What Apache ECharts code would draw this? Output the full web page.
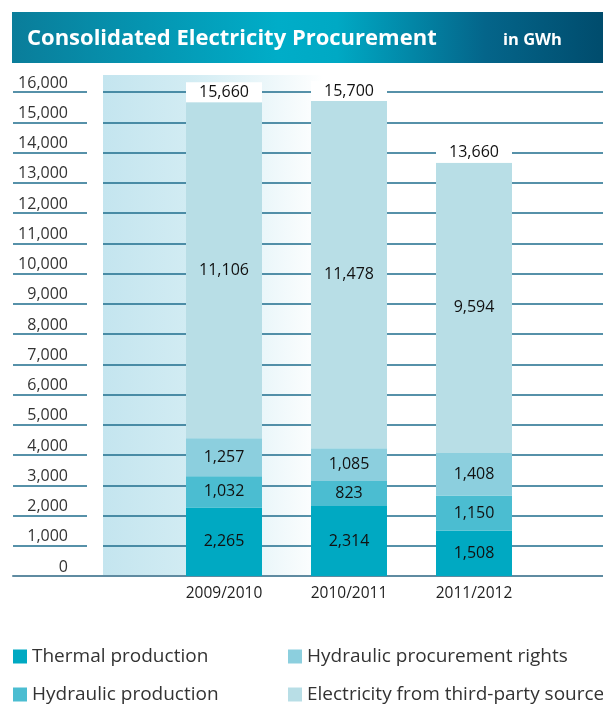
<!DOCTYPE html>
<html lang="en">
<head>
    <meta charset="UTF-8">
    <title>Consolidated Electricity Procurement</title>
    <script src="https://cdn.jsdelivr.net/npm/echarts@6/dist/echarts.min.js"></script>
    <style>
        body{margin:0;background:#fff}
        #chart{width:603px;height:706px}
    </style>
</head>
<body>
    <div id="chart"></div>
    <script>
        var years=['2009/2010','2010/2011','2011/2012'];
        var thermal=[2265,2314,1508];
        var hydraulic=[1032,823,1150];
        var procurementRights=[1257,1085,1408];
        var thirdParty=[11106,11478,9594];
        var totals=[15660,15700,13660];
        var yTicks=[0,16000,1000];   // min, max, step

        var font='"Open Sans", "Noto Sans", sans-serif';
        function fmt(v){return Number(v).toLocaleString('en-US');}

        var mychart=echarts.init(document.getElementById('chart'));

        function segment(name,data,color){
            return {
                name:name,
                type:'bar',
                stack:'total',
                xAxisIndex:1,
                yAxisIndex:1,
                barWidth:76,
                itemStyle:{color:color},
                label:{
                    show:true,
                    position:'inside',
                    color:'#111',
                    fontSize:16,
                    fontFamily:font,
                    formatter:function(p){return fmt(p.value);}
                },
                data:data
            };
        }

        // one legend per entry so the 2x2 layout is exact
        function legendItem(name,left,top){
            return {
                left:left,
                top:top,
                padding:0,
                itemWidth:14,
                itemHeight:14,
                icon:'rect',
                textStyle:{fontSize:19,color:'#333',fontFamily:font},
                data:[name]
            };
        }

        var option={
            animation:false,
            textStyle:{fontFamily:font},
            graphic:[
                {
                    type:'rect',
                    z:-10,
                    shape:{x:12,y:12,width:591,height:51},
                    style:{fill:new echarts.graphic.LinearGradient(0,0,1,0,[
                        {offset:0,color:'#0a7d9a'},
                        {offset:0.45,color:'#00adc8'},
                        {offset:0.55,color:'#00a9c4'},
                        {offset:0.8,color:'#04658a'},
                        {offset:1,color:'#004c6d'}
                    ])}
                },
                {
                    type:'rect',
                    z:-10,
                    shape:{x:103,y:75,width:220,height:501},
                    style:{fill:new echarts.graphic.LinearGradient(0,0,1,0,[
                        {offset:0,color:'#c4e5ef'},
                        {offset:0.4,color:'#d2ecf3'},
                        {offset:1,color:'#ffffff'}
                    ])}
                }
            ],
            title:[
                {
                    text:'Consolidated Electricity Procurement',
                    left:22,
                    top:23,
                    textStyle:{color:'#fff',fontSize:22,fontWeight:'bold',fontFamily:font}
                },
                {
                    text:'in GWh',
                    left:498,
                    top:27,
                    textStyle:{color:'#fff',fontSize:16.5,fontWeight:'bold',fontFamily:font}
                }
            ],
            legend:[
                legendItem('Thermal production',13,647),
                legendItem('Hydraulic production',13,685),
                legendItem('Hydraulic procurement rights',288,647),
                legendItem('Electricity from third-party source',288,685)
            ],
            grid:[
                {left:103,right:0,top:92,bottom:130},
                {left:161.5,width:375,top:92,bottom:130},
                {left:13,width:74,top:92,bottom:130},
                {left:13,right:0,top:92,bottom:130}
            ],
            xAxis:[
                {gridIndex:0,type:'value',show:false},
                {
                    gridIndex:1,
                    type:'category',
                    data:years,
                    axisLine:{show:false},
                    axisTick:{show:false},
                    axisLabel:{margin:10,fontSize:15.5,color:'#222',fontFamily:font}
                },
                {gridIndex:2,type:'value',show:false},
                {
                    gridIndex:3,
                    type:'value',
                    axisLine:{show:true,lineStyle:{color:'#5f8ba1',width:2}},
                    axisTick:{show:false},
                    axisLabel:{show:false},
                    splitLine:{show:false}
                }
            ],
            yAxis:[
                {
                    gridIndex:0,
                    type:'value',
                    min:yTicks[0],
                    max:yTicks[1],
                    interval:yTicks[2],
                    axisLine:{show:false},
                    axisTick:{show:false},
                    splitLine:{lineStyle:{color:'#1e6c8c',width:1.5}},
                    axisLabel:{
                        margin:35,
                        fontSize:16,
                        color:'#333',
                        fontFamily:font,
                        verticalAlign:'bottom',
                        padding:[0,0,1,0],
                        formatter:fmt
                    }
                },
                {
                    gridIndex:1,
                    type:'value',
                    min:yTicks[0],
                    max:yTicks[1],
                    interval:yTicks[2],
                    show:false
                },
                {
                    gridIndex:2,
                    type:'value',
                    min:yTicks[0],
                    max:yTicks[1],
                    interval:yTicks[2],
                    axisLine:{show:false},
                    axisTick:{show:false},
                    axisLabel:{show:false},
                    splitLine:{lineStyle:{color:'#1e6c8c',width:1.5}}
                },
                {
                    gridIndex:3,
                    type:'value',
                    min:yTicks[0],
                    max:yTicks[1],
                    show:false
                }
            ],
            series:[
                segment('Thermal production',thermal,'#00a9c2'),
                segment('Hydraulic production',hydraulic,'#4bbdd1'),
                segment('Hydraulic procurement rights',procurementRights,'#8ccfde'),
                segment('Electricity from third-party source',thirdParty,'#b8dee6'),
                {
                    name:'total',
                    type:'scatter',
                    xAxisIndex:1,
                    yAxisIndex:1,
                    symbolSize:0,
                    z:5,
                    itemStyle:{opacity:1},
                    label:{
                        show:true,
                        position:'top',
                        distance:0,
                        width:76,
                        height:20,
                        lineHeight:20,
                        align:'center',
                        backgroundColor:'#fff',
                        color:'#111',
                        fontSize:16,
                        fontFamily:font,
                        formatter:function(p){return fmt(p.value);}
                    },
                    data:totals
                }
            ]
        };
        mychart.setOption(option);
    </script>
</body>
</html>
